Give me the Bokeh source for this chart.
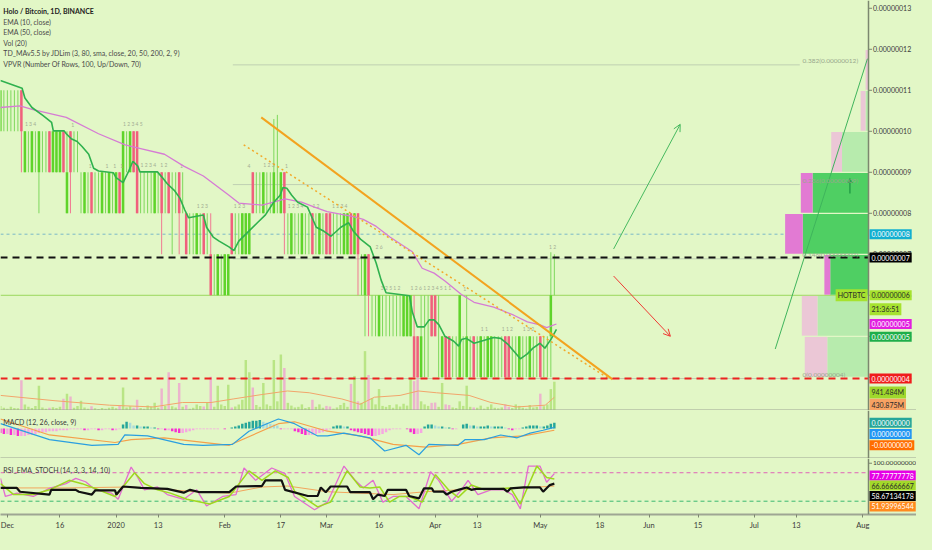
from bokeh.plotting import figure
from bokeh.layouts import column
from bokeh.models import Range1d, Label, Arrow, OpenHead, FixedTicker, Span
from bokeh.core.properties import value
from bokeh.embed import file_html
from bokeh.resources import INLINE

# ---------------------------------------------------------------- data
# day index: 0 = 2019-12-01 ; prices in satoshi (1e-8 BTC)
days = list(range(-2, 157))
open_sat = [10, 11, 11, 11, 11, 11, 11, 9, 10, 9,
            10, 9, 10, 10, 10, 9, 9, 9, 10, 8,
            10, 10, 10, 9, 8, 9, 9, 9, 9, 8,
            9, 8, 9, 8, 9, 8, 10, 9, 10, 10,
            9, 9, 9, 9, 8, 9, 9, 9, 9, 9,
            9, 9, 9, 8, 8, 8, 7, 8, 8, 8,
            7, 7, 6, 7, 6, 6, 8, 8, 8, 7,
            7, 7, 9, 9, 9, 8, 9, 9, 8, 9,
            8, 9, 8, 7, 8, 8, 7, 8, 8, 8,
            8, 7, 8, 8, 8, 8, 8, 8, 7, 7,
            8, 7, 8, 7, 6, 7, 6, 6, 5, 6,
            6, 6, 6, 6, 6, 5, 5, 5, 5, 5,
            4, 6, 6, 6, 6, 5, 4, 5, 5, 5,
            5, 4, 5, 4, 5, 5, 5, 4, 5, 4,
            4, 5, 5, 5, 5, 5, 5, 5, 4, 5,
            5, 4, 5, 5, 5, 5, 5, 5, 6]
close_sat = [11, 11, 11, 11, 11, 11, 10, 10, 10, 10,
             10, 10, 10, 10, 9, 10, 10, 10, 9, 9,
             9, 10, 10, 9, 9, 9, 8, 9, 9, 9,
             9, 9, 9, 9, 8, 10, 10, 10, 9, 8,
             9, 9, 9, 9, 9, 9, 8, 9, 8, 9,
             9, 8, 9, 7, 8, 8, 8, 8, 7, 8,
             6, 7, 7, 7, 7, 7, 7, 8, 8, 8,
             8, 8, 8, 9, 9, 9, 9, 9, 9, 9,
             9, 8, 8, 8, 8, 8, 8, 8, 8, 7,
             8, 8, 8, 7, 7, 8, 8, 8, 8, 8,
             7, 8, 7, 7, 7, 6, 6, 6, 6, 6,
             6, 6, 6, 6, 6, 6, 6, 6, 4, 4,
             5, 6, 6, 5, 5, 5, 5, 4, 4, 5,
             5, 6, 5, 5, 5, 4, 5, 5, 5, 5,
             5, 5, 5, 5, 4, 4, 5, 5, 5, 5,
             5, 5, 5, 5, 4, 5, 5, 6, 6]
high_sat = [11, 11, 11, 11, 11, 11, 11, 10, 10, 10,
            10, 10, 10, 10, 10, 10, 10, 10, 10, 10,
            10, 10, 10, 9, 9, 9, 9, 9, 9, 9,
            9, 9, 9, 9, 9, 10, 10, 10, 10, 10,
            9, 9, 9, 9, 9, 9, 9, 9, 9, 9,
            9, 9, 9, 8, 8, 8, 8, 8, 8, 8,
            8, 7, 7, 7, 7, 7, 8, 8, 8, 8,
            8, 8, 9, 9, 9, 9, 9, 9, 10.3, 10.4,
            9, 9, 8, 8, 8, 8, 8, 8, 8, 8,
            8, 8, 8, 8, 8, 8, 8, 8, 8, 8,
            8, 8, 8, 7, 7, 7, 6, 6, 6, 6,
            6, 6, 6, 6, 6, 6, 6, 6, 6, 5,
            6, 6, 6, 6, 6, 6, 5, 5, 5, 5,
            5, 6, 5, 6, 5, 5, 5, 5, 5, 5,
            5, 5, 5, 5, 5, 5, 5, 5, 5, 5,
            5, 5, 5, 5, 5, 5, 5, 7.05, 7]
low_sat = [10, 10, 10, 10, 10, 10, 9, 9, 9, 9,
           9, 8, 9, 9, 9, 9, 9, 9, 9, 8,
           8, 9, 9, 8, 8, 8, 8, 8, 8, 8,
           8, 8, 8, 8, 8, 8, 9, 9, 9, 8,
           8, 8, 8, 8, 8, 8, 7, 8, 8, 7,
           8, 7, 8, 7, 7, 7, 7, 7, 7, 7,
           6, 6, 6, 6, 6, 6, 7, 7, 7, 7,
           7, 7, 8, 8, 8, 8, 8, 8, 8, 8,
           8, 7, 7, 7, 7, 7, 7, 7, 7, 7,
           7, 7, 7, 7, 7, 7, 7, 7, 7, 7,
           7, 7, 6, 6, 5, 5, 5, 5, 5, 5,
           5, 5, 5, 5, 5, 5, 5, 5, 4, 4,
           4, 4, 4, 5, 5, 4, 4, 4, 4, 4,
           4, 4, 4, 4, 4, 4, 4, 4, 4, 4,
           4, 4, 4, 4, 4, 4, 4, 4, 4, 4,
           4, 4, 4, 4, 4, 4, 4, 4, 6]
volume_m = [150, 90, 60, 120, 80, 70, 990, 200, 120, 80,
            150, 810, 100, 60, 90, 110, 80, 120, 380, 550,
            460, 90, 150, 320, 100, 60, 140, 70, 50, 80,
            60, 90, 120, 70, 150, 750, 100, 140, 90, 350,
            80, 60, 160, 120, 250, 90, 720, 150, 1250, 140,
            100, 900, 120, 180, 60, 90, 200, 150, 130, 260,
            1100, 120, 810, 200, 150, 840, 100, 130, 200, 350,
            1650, 1250, 750, 180, 120, 900, 200, 150, 1650, 300,
            1830, 1390, 250, 160, 100, 120, 200, 80, 110, 350,
            120, 200, 90, 150, 130, 60, 100, 180, 250, 120,
            870, 1130, 300, 250, 1940, 1160, 400, 200, 700, 150,
            120, 180, 90, 200, 130, 220, 160, 1040, 960, 1130,
            300, 200, 150, 250, 260, 120, 900, 200, 180, 100,
            80, 300, 150, 810, 120, 100, 90, 160, 60, 120,
            200, 90, 70, 100, 200, 120, 80, 200, 150, 90,
            60, 180, 100, 120, 550, 140, 200, 700, 941]
vol_ma_day = [-1.96, 13.6, 29.1, 41.6, 49.9, 58.1, 64.4, 72.6, 79.9, 86.1, 95.4,
              100.6, 104.7, 112.0, 117.2, 122.4, 131.7, 137.9, 145.2, 153.4, 156]
vol_ma_m = [493, 319, 174, 116, 261, 261, 377, 522, 638, 580, 377,
            203, 435, 493, 638, 580, 493, 261, 116, 174, 431]

ema10_day = [-2.0, 4.2, 5.0, 7.0, 10.1, 12.6, 13.1, 16.2, 16.8, 18.2,
             19.9, 21.3, 23.2, 24.6, 26.0, 30.2, 31.0, 33.0, 34.4, 35.8,
             37.2, 37.8, 42.8, 44.2, 45.6, 47.6, 49.2, 50.6, 51.7, 55.9,
             56.8, 58.7, 60.4, 63.2, 64.6, 66.0, 68.8, 71.3, 73.6, 75.8,
             77.8, 78.6, 79.7, 81.1, 82.8, 85.6, 88.1, 90.3, 92.3, 95.1,
             97.3, 98.7, 100.7, 103.5, 105.2, 106.6, 108.0, 114.7, 115.5, 116.9,
             118.9, 120.3, 121.7, 123.1, 124.8, 127.3, 128.7, 129.5, 130.9, 133.1,
             135.1, 138.7, 140.7, 142.7, 144.9, 146.3, 148.3, 149.9, 151.9, 153.3,
             155.2, 156.6]
ema10_sat = [11.24, 11.05, 10.81, 10.58, 10.39, 10.22, 10.01, 10.01, 9.94, 9.82,
             9.75, 9.63, 9.44, 9.10, 9.03, 8.99, 8.87, 8.75, 8.99, 9.27,
             9.15, 9.01, 9.01, 8.87, 8.72, 8.56, 8.37, 8.08, 7.89, 7.96,
             7.66, 7.42, 7.32, 7.18, 7.09, 7.32, 7.56, 7.77, 7.96, 8.25,
             8.44, 8.63, 8.61, 8.44, 8.27, 8.15, 7.66, 7.56, 7.44, 7.66,
             7.77, 7.56, 7.37, 7.18, 6.78, 6.37, 6.06, 5.99, 5.59, 5.23,
             5.23, 5.40, 5.40, 5.28, 5.00, 4.88, 4.76, 4.92, 4.95, 4.83,
             4.88, 4.97, 4.95, 4.81, 4.59, 4.45, 4.57, 4.71, 4.83, 4.71,
             4.95, 5.17]
ema50_day = [-2.0, 3.6, 7.3, 16.8, 26.0, 33.6, 38.0, 44.8, 50.3, 55.9,
             63.2, 66.0, 72.7, 77.2, 79.2, 83.9, 87.6, 91.2, 98.7, 101.5,
             105.2, 109.1, 115.5, 118.3, 121.7, 124.8, 129.5, 133.1, 138.7, 144.3,
             148.3, 151.9, 153.8, 156.6]
ema50_sat = [10.58, 10.62, 10.53, 10.34, 9.94, 9.67, 9.58, 9.44, 9.15, 8.91,
             8.44, 8.25, 8.20, 8.30, 8.35, 8.27, 8.15, 8.04, 7.92, 7.85,
             7.68, 7.42, 7.06, 6.66, 6.54, 6.35, 6.02, 5.83, 5.71, 5.52,
             5.35, 5.28, 5.21, 5.30]

# TD sequential counts printed above the candles (day, satoshi, text)
td_day = [5.0, 18.2, 33.0, 23.2, 28.0, 30.2, 32.2, 38.0, 43.6, 49.2,
          54.0, 64.6, 68.5, 73.0, 79.2, 80.0, 87.0, 92.6, 105.0, 106.5,
          115.0, 130.0, 135.0, 141.0, 147.0, 154.5]
td_sat = [10.1, 10.1, 10.1, 9.1, 9.1, 9.1, 9.1, 9.1, 9.1, 9.1,
          8.1, 8.1, 9.1, 9.1, 9.1, 8.1, 8.1, 8.1, 7.1, 6.1,
          6.1, 6.1, 5.1, 5.1, 5.1, 7.1]
td_text = ["1 3 4", "1", "1 2 3 4 5", "1", "1", "1", "1", "1 2 3 4", "1 2", "1",
           "1 2 3", "1 2 3", "4", "1 2 3", "1", "1 2 3 4", "1 2", "1 2 3 4", "2 6", "3 2 5  1 2",
           "1 2 6 1 2 3 4 5 1 1", "1", "1  1", "1  1 2", "1 3 2", "1 2"]

# horizontal levels (satoshi)
level_black = 6.92
level_red = 3.97
level_cyan = 7.49
level_last = 6.0

# fibonacci retracement drawing
fib_ratio_labels = ["0(0.00000004)", "0.146(0.00000007)", "0.236(0.00000009)", "0.382(0.00000012)"]
fib_sat = [3.97, 6.89, 8.70, 11.62]
fib_day_start, fib_day_end = 64.3, 226.0

# drawings: trend lines & arrows (day, satoshi)
trend_solid_day, trend_solid_sat = [72.4, 172.6], [10.34, 3.95]
trend_dotted_day, trend_dotted_sat = [67.4, 171.5], [9.67, 3.97]
arrow_up_day, arrow_up_sat = [172.9, 191.9], [7.13, 10.17]
arrow_down_day, arrow_down_sat = [172.9, 189.1], [6.47, 5.0]
long_line_day, long_line_sat = [219.0, 245.3], [4.69, 11.77]
vp_marker_day, vp_marker_sat = 240.3, 8.70

# visible-range volume profile (rows of 1 satoshi)
vp_row = [4, 5, 6, 7, 8, 9, 10, 11]
vp_up = [42, 52, 39, 67, 57, 27, 3, 0]
vp_down = [23, 16, 6, 18, 12, 11, 5, 3]
vp_value_area = [False, False, True, True, True, False, False, False]

# MACD (arbitrary units)
macd_hist = [-5, -6, -6, -7, -7,
             -8, -8, -8, -7, -7, -6,
             -5, -4, -4, -3, -3, -3, -2,
             -2, -2, -1, -1, -1, -1, -2, -2, -1,
             -1, -2, -2, -1, -1, -2, -2, -1,
             4, 7, 6,
             3, 3, 2, 2, 2, 1, 1,
             -1, -1, -2, -2, -3,
             -4, -5, -5, -4, -3,
             -2, -1, -1, -1, -1, -1, -1, -1, 0, -1, 0,
             1, 2, 3, 5, 6, 7, 8, 8, 9,
             7, 6, 5, 4, 3,
             -1, -1, -1, -1,
             -3, -4, -6, -7, -7, -7, -6, -5, -4, -3, -1,
             2, 3, 3, 2, 2,
             -2, -3, -4, -5, -6, -7, -8, -8, -7, -6, -4,
             -2, -1, -1, -1, 0, -1,
             -4, -6, -6, -5,
             2, 4, 4,
             3, 2, 2, 1, 1,
             -1, -1, 0,
             4, 5,
             3, 3, 2, 2, 2, 3, 2, 2, 2, 2, 1,
             -1, -2, -1, -1,
             1, 2, 3, 3, 3, 2, 2,
             3, 5, 6]
macd_day = [-1.96, 12.0, 24.1, 31.6, 33.5, 40, 50.3, 55.8, 64.2, 68.9, 77.3, 81.9, 88.5, 91.3,
            96, 103.4, 107.6, 113.7, 117.4, 120.2, 128.6, 130.5, 136, 140.7, 145.4, 149.1, 152.8, 156]
macd_val = [5, -12, -18, -17, -7, -8, -17, -18, -17, -3, 10, 5, -8, -8,
            -5, -10, -24, -18, -28, -17, -18, -12, -12, -7, -10, -5, -2, 1]
signal_day = [-1.96, 12, 30.7, 35.3, 44.7, 63.3, 77.3, 81.9, 91.3, 100.6, 110, 119.3, 128.6, 137.9, 147.2, 156]
signal_val = [10, -7, -15, -12, -10, -18, 5, 7, -3, -8, -17, -20, -17, -10, -8, -2]

# RSI / EMA / Stoch panel (0..100)
stoch_k_day = [-1.96, -0.56, 2.7, 7.4, 12.0, 16.7, 19.5, 22.3, 25.1, 29.7,
               31.6, 35.3, 37.2, 39.1, 42.8, 45.6, 50.3, 54.0, 56.8, 61.4,
               65.2, 67.5, 70.8, 75.4, 79.2, 81.9, 87.6, 91.3, 96.0, 99.2,
               101.5, 104.3, 107.1, 110.0, 113.7, 117.4, 120.7, 123.0, 126.7, 129.5,
               131.4, 134.2, 137.9, 141.6, 144.0, 146.3, 148.6, 151.9, 153.8, 156]
stoch_k_val = [68, 30, 37, 30, 47, 57, 68, 61, 44, 37,
               24, 92, 70, 44, 50, 34, 24, 44, 10, 30,
               34, 90, 64, 90, 78, 30, 2, 18, 94, 64,
               48, 64, 18, 30, 30, 4, 82, 64, 20, 44,
               64, 34, 44, 44, 34, 4, 94, 94, 60, 78]
stoch_d_day = [-1.96, 1.8, 7.4, 12.0, 17.6, 21.3, 26.0, 30.7, 36.3, 39.1,
               42.8, 46.5, 51.2, 57.7, 63.3, 68.9, 72.6, 76.4, 80.1, 82.0,
               88.5, 92.2, 96.9, 100.6, 103.4, 106.2, 109.0, 111.8, 114.6, 118.3,
               122.1, 125.8, 128.6, 132.3, 136.0, 143.5, 146.3, 151.0, 153.8, 156]
stoch_d_val = [57, 34, 34, 44, 64, 57, 44, 30, 80, 57,
               44, 37, 24, 14, 30, 84, 64, 84, 70, 40,
               8, 18, 84, 50, 48, 50, 18, 30, 30, 18,
               76, 44, 28, 54, 44, 48, 14, 94, 70, 67]
rsi_ema_day = [-1.96, 16.7, 35.3, 54.0, 63.3, 72.6, 80.0, 91.3, 100.6, 110.0, 119.3, 128.6, 137.9, 147.2, 156]
rsi_ema_val = [48, 48, 50, 40, 37, 50, 52, 40, 37, 34, 40, 44, 46, 48, 52]
rsi_day = [-1.96, 2.7, 3.6, 12.0, 12.5, 19.5, 20.4, 24.1, 25.1, 30.7,
           31.1, 33.0, 38.1, 45.6, 50.3, 52.1, 54.9, 63.3, 65.2, 72.6,
           73.6, 78.2, 79.2, 85.7, 88.5, 89.4, 90.8, 92.2, 96.9, 97.8,
           103.4, 104.3, 105.7, 107.6, 108.5, 113.7, 114.6, 117.4, 118.8, 121.1,
           121.6, 124.4, 125.3, 126.7, 128.6, 131.0, 132.3, 133.7, 141.6, 142.6,
           143.5, 147.2, 151.9, 152.8, 154.7, 156]
rsi_val = [48, 48, 40, 34, 44, 44, 40, 34, 43, 43,
           34, 51, 48, 46, 38, 44, 39, 39, 51, 52,
           64, 64, 44, 31, 31, 49, 39, 51, 51, 39,
           39, 24, 34, 31, 44, 44, 31, 26, 47, 47,
           40, 40, 34, 40, 44, 49, 44, 46, 46, 40,
           47, 49, 49, 40, 54, 57]
rsi_upper, rsi_lower = 80, 20

# axis ticks
price_ticks = [4, 5, 6, 7, 8, 9, 10, 11, 12, 13]
price_tick_labels = ["0.00000004", "0.00000005", "0.00000006", "0.00000007", "0.00000008",
                     "0.00000009", "0.00000010", "0.00000011", "0.00000012", "0.00000013"]
rsi_ticks = [100]
rsi_tick_labels = ["100.00000000"]
time_ticks = [0, 15, 31, 43, 62, 78, 91, 106, 122, 134, 152, 169, 183, 197, 213, 225, 244]
time_tick_labels = ["Dec", "16", "2020", "13", "Feb", "17", "Mar", "16", "Apr", "13",
                    "May", "18", "Jun", "15", "Jul", "13", "Aug"]

legend_lines = ["Holo / Bitcoin, 1D, BINANCE", "EMA (10, close)", "EMA (50, close)", "Vol (20)",
                "TD_MAv5.5 by JDLim (3, 80, sma, close, 20, 50, 200, 2, 9)",
                "VPVR (Number Of Rows, 100, Up/Down, 70)"]

# ---------------------------------------------------------------- style / geometry
BG = "#e2f7c6"
FONT = "Lato"
AXIS = "#7c876f"
TXT = "#3a3a3a"
FULL_W = 916          # frame width incl. price-scale column
AXIS_PX = 868         # where the price scale line sits
X_START, X_END = -1.96, 245.6            # visible time window (days)
PPX = AXIS_PX / (X_END - X_START)        # screen px per day
X_FULL = X_START + FULL_W / PPX
REF_PX_PER_DAY = 3.575                   # reference px/day, used for VPVR row lengths
MAIN_H, MACD_H, RSI_H = 410, 48, 56

xr = Range1d(X_START, X_FULL)


def make_fig(frame_h, yr):
    f = figure(frame_width=FULL_W, frame_height=frame_h, x_range=xr, y_range=yr,
               output_backend="svg", toolbar_location=None, y_axis_location=None,
               min_border_left=0, min_border_right=0, min_border_top=0, min_border_bottom=0,
               background_fill_color=BG, border_fill_color=BG, outline_line_color=None)
    f.grid.visible = False
    xa = f.xaxis[0]
    xa.axis_line_color = "#9ea693"
    xa.axis_line_width = 2
    xa.minor_tick_line_color = None
    # price-scale line
    f.add_layout(Span(location=X_END, dimension="height", line_color=AXIS, line_width=1.5))
    return f


def scale_ticks(f, ticks, labels, size="7px"):
    n = len(ticks)
    f.segment(x0=[X_END] * n, y0=ticks, x1=[X_END + 3.5 / PPX] * n, y1=ticks, line_color=AXIS, line_width=1)
    f.text(x=[X_END + 4.5 / PPX] * n, y=ticks, text=labels, text_font=value(FONT), text_font_size=size,
           text_color=TXT, text_baseline="middle", text_align="left")


def box(f, text, val, bg, fg, inside=False):
    f.add_layout(Label(x=X_END, y=val, x_offset=-1 if inside else 1,
                       text=text, text_align="right" if inside else "left", text_baseline="middle",
                       text_font=FONT, text_font_size="7px", text_color=fg,
                       background_fill_color=bg, padding=2))


def hline(f, level, **kw):
    f.segment(x0=[X_START], y0=[level], x1=[X_END], y1=[level], **kw)


# ---------------------------------------------------------------- main panel
main = make_fig(MAIN_H, Range1d(3.19, 13.19))
main.extra_y_ranges = {"vol": Range1d(0, 13400)}
main.xaxis[0].ticker = FixedTicker(ticks=[])
main.xaxis[0].major_tick_out = 0
main.xaxis[0].major_label_standoff = 0
scale_ticks(main, price_ticks, price_tick_labels)

is_up = [c >= o for o, c in zip(open_sat, close_sat)]

# volume
main.vbar(x=days, top=volume_m, bottom=0, width=0.7, y_range_name="vol",
          fill_color=["#b9e585" if u else "#ecb4cd" for u in is_up], line_color=None)
main.line(vol_ma_day, vol_ma_m, y_range_name="vol", line_color="#f2a56b", line_width=1)

# fib drawing
main.segment(x0=[fib_day_start] * len(fib_sat), y0=fib_sat, x1=[fib_day_end] * len(fib_sat), y1=fib_sat,
             line_color="#bfd0b2", line_width=1)

# horizontal levels
hline(main, level_cyan, line_color="#7ab8c8", line_width=1, line_dash="3 3")
hline(main, level_last, line_color="#9bd75c", line_width=1)

# VPVR
vp_green_left = [X_END - u / REF_PX_PER_DAY for u in vp_up]
vp_pink_left = [X_END - (u + d) / REF_PX_PER_DAY for u, d in zip(vp_up, vp_down)]
vp_y = [r + 0.5 for r in vp_row]
main.hbar(y=vp_y, left=vp_green_left, right=[X_END] * len(vp_row), height=0.97,
          fill_color=["#4fcf63" if v else "#b7ebad" for v in vp_value_area], line_color=None)
main.hbar(y=vp_y, left=vp_pink_left, right=vp_green_left, height=0.97,
          fill_color=["#e27ad3" if v else "#ebc7d6" for v in vp_value_area], line_color=None)
main.segment(x0=[vp_marker_day], y0=[vp_marker_sat - 0.22], x1=[vp_marker_day], y1=[vp_marker_sat + 0.05],
             line_color="#24a047", line_width=1.5)
main.scatter(x=[vp_marker_day], y=[vp_marker_sat + 0.08], marker="triangle", size=6,
             fill_color="#24a047", line_color=None)

# candles
main.segment(x0=days, y0=low_sat, x1=days, y1=high_sat,
             line_color=["#7ed85c" if u else "#f07a92" for u in is_up], line_width=1)
b_idx = [i for i in range(len(days)) if open_sat[i] != close_sat[i]]
main.vbar(x=[days[i] for i in b_idx], width=0.72,
          top=[max(open_sat[i], close_sat[i]) for i in b_idx],
          bottom=[min(open_sat[i], close_sat[i]) for i in b_idx],
          fill_color=["#5fd42a" if is_up[i] else "#f0607c" for i in b_idx], line_color=None)

# TD sequential counts
main.text(x=td_day, y=td_sat, text=td_text, text_font=value(FONT), text_font_size="5px",
          text_color="#a3ad93", text_baseline="bottom", text_align="left")

# moving averages
main.line(ema50_day, ema50_sat, line_color="#d67bd4", line_width=1.3)
main.line(ema10_day, ema10_sat, line_color="#2fb14e", line_width=1.6)

# trend drawings
main.line(trend_dotted_day, trend_dotted_sat, line_color="#f2a92a", line_width=1.5, line_dash="2 3")
main.line(trend_solid_day, trend_solid_sat, line_color="#f3a31f", line_width=2)
main.line(long_line_day, long_line_sat, line_color="#3fb45c", line_width=1)
main.add_layout(Arrow(end=OpenHead(size=7, line_color="#47b95f", line_width=1),
                      x_start=arrow_up_day[0], y_start=arrow_up_sat[0], x_end=arrow_up_day[1], y_end=arrow_up_sat[1],
                      line_color="#47b95f", line_width=1))
main.add_layout(Arrow(end=OpenHead(size=7, line_color="#ef3a34", line_width=1),
                      x_start=arrow_down_day[0], y_start=arrow_down_sat[0], x_end=arrow_down_day[1], y_end=arrow_down_sat[1],
                      line_color="#ef3a34", line_width=1))

hline(main, level_black, line_color="#111111", line_width=2, line_dash="7 5")
hline(main, level_red, line_color="#ec2320", line_width=2, line_dash="7 5")

for lab, yv in zip(fib_ratio_labels, fib_sat):
    main.add_layout(Label(x=226.8, y=yv, text=lab, text_baseline="bottom", y_offset=1,
                          text_font=FONT, text_font_size="6.5px", text_color="#98a78d"))

for i, t in enumerate(legend_lines):
    main.add_layout(Label(x=X_START + 0.8, y=13.19 - (11 + 10.8 * i) / 42.1, text=t, text_baseline="middle",
                          text_font=FONT, text_font_size="7px",
                          text_color="#222222" if i == 0 else "#4a4a4a",
                          text_font_style="bold" if i == 0 else "normal"))

# price-scale value boxes
box(main, "0.00000008", level_cyan, "#12afd0", "white")
box(main, "0.00000007", level_black, "#000000", "white")
box(main, "HOTBTC", level_last, "#a6e22e", "#2a2a2a", inside=True)
box(main, "0.00000006", level_last, "#a6e22e", "#2a2a2a")
box(main, "21:36:51", 5.66, "#a6e22e", "#2a2a2a")
box(main, "0.00000005", 5.30, "#e21fe0", "white")
box(main, "0.00000005", 4.99, "#1fae4a", "white")
box(main, "0.00000004", level_red, "#f01c1c", "white")
box(main, "941.484M", 3.63, "#9fd82c", "#2a2a2a")
box(main, "430.875M", 3.33, "#f7a263", "#2a2a2a")

# ---------------------------------------------------------------- MACD panel
macd = make_fig(MACD_H, Range1d(-32, 19))
macd.xaxis[0].ticker = FixedTicker(ticks=[])
macd.xaxis[0].major_tick_out = 0
macd.xaxis[0].major_label_standoff = 0
hist_colors = []
prev = 0
for h in macd_hist:
    if h >= 0:
        hist_colors.append("#26a69a" if h >= prev else "#a9dadb")
    else:
        hist_colors.append("#f72fd2" if h < prev else "#f6a6e2")
    prev = h
macd.vbar(x=days, top=macd_hist, bottom=0, width=0.7, fill_color=hist_colors, line_color=None)
macd.line(signal_day, signal_val, line_color="#f4a04a", line_width=1.2)
macd.line(macd_day, macd_val, line_color="#2a9fe0", line_width=1.2)
macd.add_layout(Label(x=X_START + 0.8, y=7, text="MACD (12, 26, close, 9)", text_baseline="middle",
                      text_font=FONT, text_font_size="7px", text_color="#3a3a3a"))
box(macd, "0.00000000", 6, "#26a69a", "white")
box(macd, "0.00000000", -6, "#2196f3", "white")
box(macd, "-0.00000000", -18, "#ff6d00", "white")

# ---------------------------------------------------------------- RSI / Stoch panel
rsi = make_fig(RSI_H, Range1d(-8, 110))
scale_ticks(rsi, rsi_ticks, rsi_tick_labels, size="6.5px")
xa = rsi.xaxis[0]
xa.ticker = FixedTicker(ticks=time_ticks)
xa.major_label_overrides = {t: s for t, s in zip(time_ticks, time_tick_labels)}
xa.major_tick_out = 3
xa.major_tick_in = 0
xa.major_tick_line_color = AXIS
xa.major_label_text_font = FONT
xa.major_label_text_font_size = "7.5px"
xa.major_label_text_color = TXT
xa.major_label_standoff = 3
hline(rsi, rsi_upper, line_color="#e063b8", line_width=1, line_dash="4 3")
hline(rsi, rsi_lower, line_color="#3cb872", line_width=1, line_dash="4 3")
rsi.line(rsi_ema_day, rsi_ema_val, line_color="#f2a55c", line_width=1)
rsi.line(stoch_k_day, stoch_k_val, line_color="#e26cd0", line_width=1.3)
rsi.line(stoch_d_day, stoch_d_val, line_color="#9ed81e", line_width=1.5)
rsi.line(rsi_day, rsi_val, line_color="#111111", line_width=2.2)
rsi.add_layout(Label(x=X_START + 0.8, y=86, text="RSI_EMA_STOCH (14, 3, 3, 14, 10)", text_baseline="middle",
                     text_font=FONT, text_font_size="7px", text_color="#3a3a3a"))
box(rsi, "77.77777778", 74, "#e600e6", "white")
box(rsi, "66.66666667", 53, "#a3d92a", "#2a2a2a")
box(rsi, "58.67134178", 31, "#000000", "white")
box(rsi, "51.93996544", 9, "#ff8a1e", "white")

layout = column(main, macd, rsi, spacing=0)
page_style = "{% block preamble %}<style>html, body { background: #e2f7c6; }</style>{% endblock %}"
open("out.html", "w").write(file_html(layout, INLINE, template=page_style))
